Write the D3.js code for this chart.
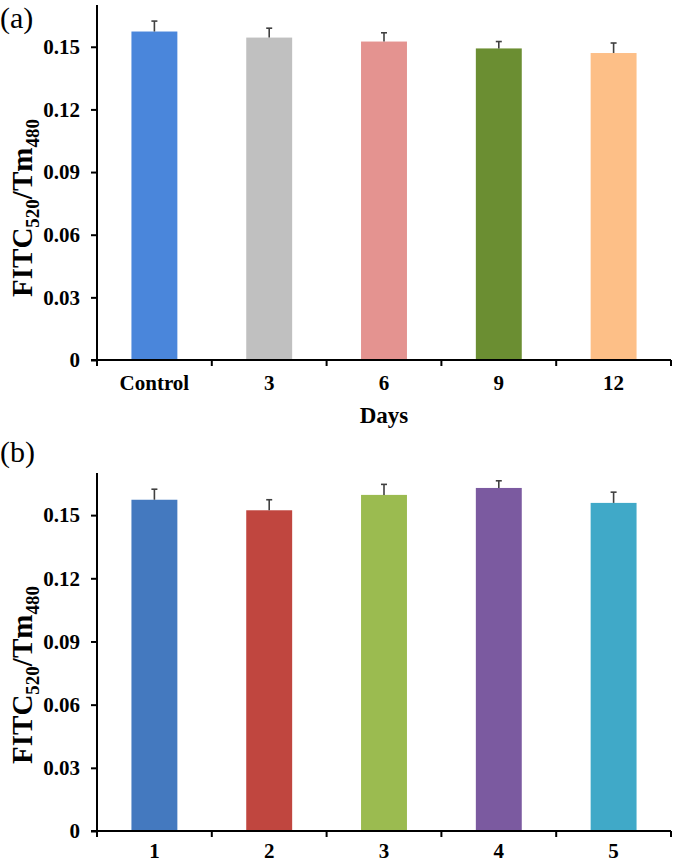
<!DOCTYPE html>
<html>
<head>
<meta charset="utf-8">
<script src="https://cdn.jsdelivr.net/npm/d3@7"></script>
<style>
  html, body { margin: 0; padding: 0; background: #fff; }
  svg { display: block; }
  text { font-family: "Liberation Serif", serif; }
</style>
</head>
<body>
<svg id="chart" width="675" height="862"></svg>
<script>
// ---- Data ----
const categoriesA = ["Control", "3", "6", "9", "12"];
const valuesA = [0.1573, 0.1544, 0.1525, 0.1492, 0.1470];
const errorsA = [0.0050, 0.0045, 0.0042, 0.0033, 0.0048];
const colorsA = ["#4a86db", "#c0c0c0", "#e49390", "#6b8e32", "#fdbf87"];

const categoriesB = ["1", "2", "3", "4", "5"];
const valuesB = [0.1573, 0.1523, 0.1596, 0.1629, 0.1558];
const errorsB = [0.0050, 0.0050, 0.0050, 0.0034, 0.0051];
const colorsB = ["#4479bf", "#c0463f", "#9bbb50", "#7b5aa0", "#40a9c8"];

const yTicks = [0, 0.03, 0.06, 0.09, 0.12, 0.15];
const yMax = 0.17;

const FONT = "'Liberation Serif', serif";
const svg = d3.select("#chart");

function panel(cfg) {
  const g = svg.append("g");
  const x0 = 97, x1 = 671;
  const y = d3.scaleLinear().domain([0, yMax]).range([cfg.bottom, cfg.top]);
  const xo = d3.scaleBand().domain(cfg.categories).range([x0, x1]).padding(0);
  const xb = d3.scaleBand().domain(cfg.categories).range([x0, x1]).paddingInner(0.6).paddingOuter(0.3);

  // bars
  g.selectAll("rect.bar").data(cfg.categories).enter().append("rect")
    .attr("x", d => xb(d))
    .attr("width", xb.bandwidth())
    .attr("y", (d, i) => y(cfg.values[i]))
    .attr("height", (d, i) => y(0) - y(cfg.values[i]))
    .attr("fill", (d, i) => cfg.colors[i]);

  // error bars
  const eg = g.append("g").attr("stroke", "#404040").attr("stroke-width", 1.6);
  cfg.categories.forEach((c, i) => {
    const cx = xb(c) + xb.bandwidth() / 2;
    eg.append("line").attr("x1", cx).attr("x2", cx)
      .attr("y1", y(cfg.values[i])).attr("y2", y(cfg.values[i] + cfg.errors[i]));
    eg.append("line").attr("x1", cx - 3).attr("x2", cx + 3)
      .attr("y1", y(cfg.values[i] + cfg.errors[i])).attr("y2", y(cfg.values[i] + cfg.errors[i]));
  });

  // y axis
  const ya = d3.axisLeft(y).tickValues(yTicks).tickSize(6).tickPadding(11)
    .tickFormat(d => d === 0 ? "0" : d3.format(".2f")(d));
  const yg = g.append("g").attr("transform", `translate(${x0},0)`).call(ya)
    .attr("font-family", FONT);
  yg.select(".domain").attr("stroke", "#000").attr("stroke-width", 2)
    .attr("d", `M0,${cfg.top}V${cfg.bottom}`);
  yg.selectAll(".tick line").attr("stroke", "#000").attr("stroke-width", 2);
  yg.selectAll(".tick text").attr("fill", "#000")
    .style("font-size", "21px").style("font-weight", "bold")
    .style("font-family", FONT);

  // x axis (labels)
  const xa = d3.axisBottom(xo).tickSize(0).tickPadding(0);
  const xg = g.append("g").attr("transform", `translate(0,${cfg.bottom})`).call(xa)
    .attr("font-family", FONT);
  xg.select(".domain").attr("stroke", "#000").attr("stroke-width", 2)
    .attr("d", `M${x0 - 6},0H${x1}`);
  xg.selectAll(".tick text").attr("fill", "#000").attr("dy", null).attr("y", cfg.xLabelOffset)
    .style("font-size", "21px").style("font-weight", "bold")
    .style("font-family", FONT);
  // boundary tick marks
  const bounds = cfg.categories.map(c => xo(c)).concat([x1]);
  xg.selectAll("line.bt").data(bounds).enter().append("line")
    .attr("x1", d => d).attr("x2", d => d).attr("y1", 0).attr("y2", 6)
    .attr("stroke", "#000").attr("stroke-width", 2);

  // y axis title
  const ty = g.append("text")
    .attr("transform", `translate(32,${cfg.labelY}) rotate(-90)`)
    .attr("text-anchor", "middle")
    .style("font-family", FONT)
    .style("font-size", "29px").style("font-weight", "bold").attr("fill", "#000");
  ty.append("tspan").text("FITC");
  ty.append("tspan").text("520").style("font-size", "19px").attr("dy", 7);
  ty.append("tspan").text("/Tm").attr("dy", -7);
  ty.append("tspan").text("480").style("font-size", "19px").attr("dy", 7);

  // panel letter
  g.append("text").attr("x", 0).attr("y", cfg.letterY)
    .style("font-family", FONT)
    .style("font-size", "30px").attr("fill", "#000").text(cfg.letter);

  if (cfg.xTitle) {
    g.append("text").attr("x", (x0 + x1) / 2).attr("y", cfg.bottom + 63)
      .attr("text-anchor", "middle").style("font-size", "23px").style("font-weight", "bold")
      .style("font-family", FONT)
      .attr("fill", "#000").text(cfg.xTitle);
  }
}

panel({ categories: categoriesA, values: valuesA, errors: errorsA, colors: colorsA,
  top: 5, bottom: 360, labelY: 208, letter: "(a)", letterY: 28, xTitle: "Days", xLabelOffset: 30 });
panel({ categories: categoriesB, values: valuesB, errors: errorsB, colors: colorsB,
  top: 473, bottom: 831, labelY: 675, letter: "(b)", letterY: 462, xTitle: null, xLabelOffset: 27 });
</script>
</body>
</html>
